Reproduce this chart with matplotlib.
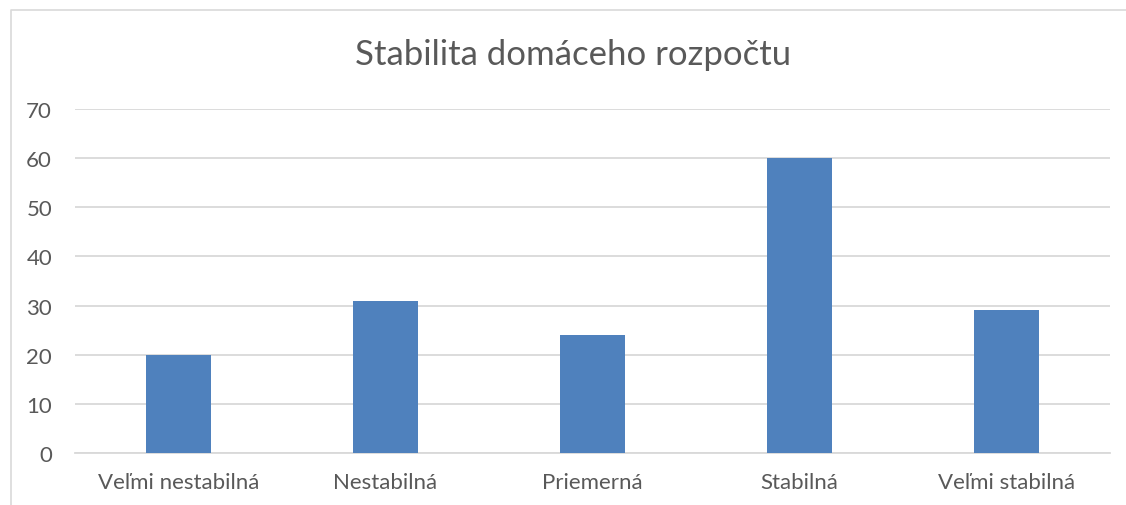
import matplotlib.pyplot as plt
from matplotlib.lines import Line2D

categories = ["Veľmi nestabilná", "Nestabilná", "Priemerná", "Stabilná", "Veľmi stabilná"]
values = [20, 31, 24, 60, 29]
yticks = [0, 10, 20, 30, 40, 50, 60, 70]

plt.rcParams["font.family"] = ["Lato", "DejaVu Sans"]
text_color = "#595959"
grid_color = "#D9D9D9"

fig = plt.figure(figsize=(11.26, 5.06), dpi=100)
ax = fig.add_axes([75 / 1126, 52 / 506, 1035 / 1126, 344 / 506])

x = range(len(categories))
ax.bar(x, values, width=0.315, color="#4F81BD", zorder=3)

ax.set_xlim(-0.5, len(categories) - 0.5)
ax.set_ylim(0, 70)
ax.set_yticks(yticks)
ax.set_xticks(list(x))
ax.set_xticklabels(categories)
ax.grid(axis="y", color=grid_color, linewidth=1.3, zorder=0)
ax.tick_params(axis="both", length=0, labelsize=16, colors=text_color)
ax.tick_params(axis="y", pad=16.5)
ax.tick_params(axis="x", pad=14)
for side in ["top", "right", "left"]:
    ax.spines[side].set_visible(False)
ax.spines["bottom"].set_color(grid_color)
ax.spines["bottom"].set_linewidth(1.3)

fig.text(573 / 1126, 1 - 55 / 506, "Stabilita domáceho rozpočtu",
         ha="center", va="center", fontsize=25, color=text_color)

# chart frame (only left and top edges visible)
fx = 11 / 1126
fy = 1 - 11 / 506
fig.add_artist(Line2D([fx, fx, 1], [0, fy, fy], transform=fig.transFigure,
                      color=grid_color, linewidth=1.2))

fig.savefig("out.png", dpi=100)
